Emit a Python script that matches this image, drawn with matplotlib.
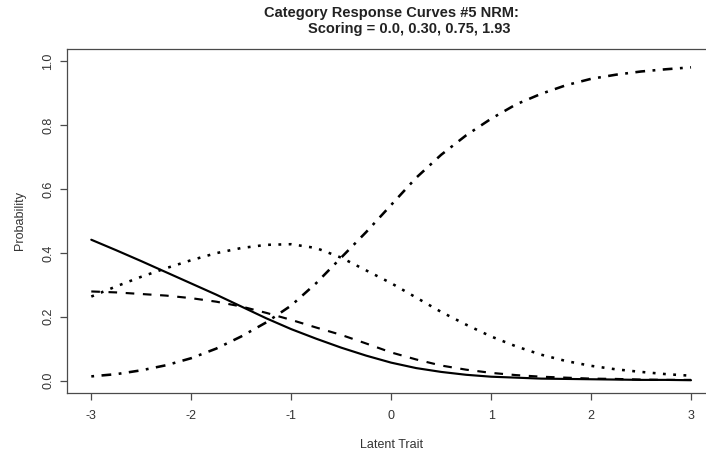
import numpy as np
import matplotlib
matplotlib.use("Agg")
import matplotlib.pyplot as plt

plt.rcParams['font.family'] = ['Liberation Sans', 'DejaVu Sans']

# Latent trait grid and category probabilities
theta = [-3.0, -2.75, -2.5, -2.25, -2.0, -1.75, -1.5, -1.25, -1.0, -0.75, -0.5, -0.25,
         0.0, 0.25, 0.5, 0.75, 1.0, 1.25, 1.5, 1.75, 2.0, 2.25, 2.5, 2.75, 3.0]

cat1 = [0.441, 0.408, 0.374, 0.339, 0.304, 0.269, 0.232, 0.195, 0.161, 0.131, 0.103, 0.078,
        0.056, 0.039, 0.027, 0.018, 0.012, 0.009, 0.006, 0.005, 0.004, 0.003, 0.002, 0.002, 0.001]
cat2 = [0.279, 0.276, 0.271, 0.266, 0.258, 0.247, 0.232, 0.212, 0.19, 0.166, 0.143, 0.116,
        0.088, 0.066, 0.047, 0.034, 0.024, 0.017, 0.012, 0.009, 0.006, 0.005, 0.003, 0.002, 0.002]
cat3 = [0.263, 0.295, 0.325, 0.352, 0.377, 0.399, 0.415, 0.425, 0.427, 0.415, 0.385, 0.345,
        0.305, 0.26, 0.215, 0.175, 0.138, 0.107, 0.081, 0.061, 0.046, 0.035, 0.027, 0.020, 0.015]
cat4 = [0.013, 0.020, 0.032, 0.048, 0.07, 0.10, 0.138, 0.182, 0.235, 0.305, 0.385, 0.465,
        0.55, 0.635, 0.707, 0.768, 0.82, 0.865, 0.898, 0.925, 0.945, 0.958, 0.968, 0.975, 0.981]

xticks = [-3, -2, -1, 0, 1, 2, 3]
yticks = [0.0, 0.2, 0.4, 0.6, 0.8, 1.0]

W, H = 706, 455
fig = plt.figure(figsize=(W / 100, H / 100), dpi=100)
# plot region (right edge runs past the image, as in the original)
ax = fig.add_axes([67.3 / W, (H - 393.3) / H, (715 - 67.3) / W, (393.3 - 48.5) / H])

lw = 1.55
ax.plot(theta, cat1, color='black', lw=lw, solid_capstyle='round', solid_joinstyle='round')
ax.plot(theta, cat2, color='black', lw=lw, dashes=(4, 4))
ax.plot(theta, cat3, color='black', lw=lw + 0.3, dashes=(1.1, 2.9))
ax.plot(theta, cat4, color='black', lw=lw + 0.3, dashes=(1.1, 2.9, 3.8, 2.9))

ax.set_xlim(-3.24, 3.24)
ax.set_ylim(-0.04, 1.04)

axis_col = '#4a4a4a'
for s in ax.spines.values():
    s.set_color(axis_col)
    s.set_linewidth(0.9)

ax.set_xticks(xticks)
ax.set_xticklabels([str(v) for v in xticks])
ax.set_yticks(yticks)
ax.set_yticklabels([f"{v:.1f}" for v in yticks], rotation=90, va='center')
ax.tick_params(direction='out', length=5.2, width=0.9, color=axis_col,
               labelsize=9, labelcolor='#333333')
ax.tick_params(axis='x', pad=7)
ax.tick_params(axis='y', pad=4)

ax.set_xlabel("Latent Trait", fontsize=9, color='#333333', labelpad=12)
ax.set_ylabel("Probability", fontsize=9, color='#333333', labelpad=12)

fig.text(391.7 / W, 1 - 16.5 / H, "Category Response Curves #5 NRM:", ha='center',
         va='baseline', fontsize=10.5, fontweight='bold', color='#222222')
fig.text(409 / W, 1 - 33.5 / H, "Scoring = 0.0, 0.30, 0.75, 1.93", ha='center',
         va='baseline', fontsize=10.5, fontweight='bold', color='#222222')

fig.savefig("out.png", dpi=100)
